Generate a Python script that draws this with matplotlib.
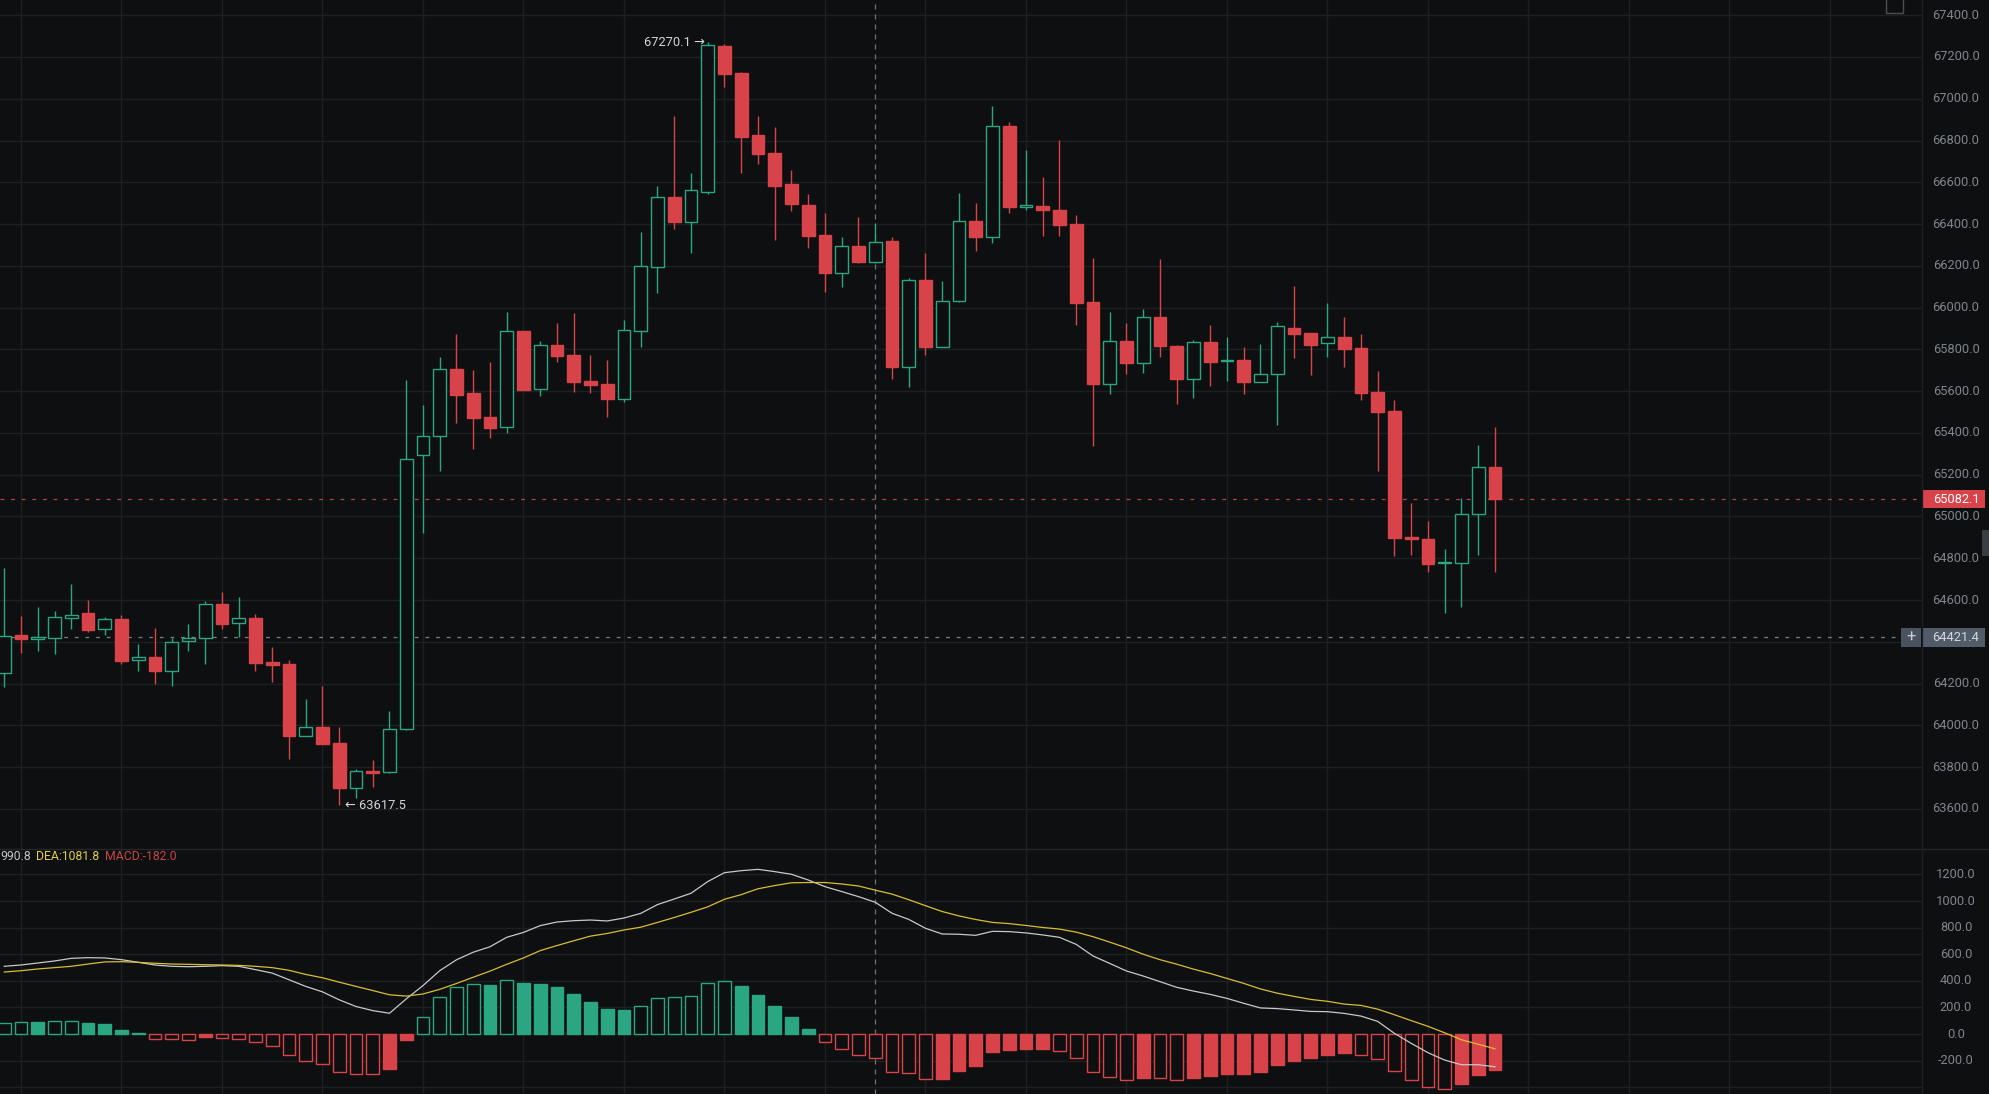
import numpy as np
import matplotlib
matplotlib.use("Agg")
import matplotlib.pyplot as plt
import matplotlib.transforms as mtransforms
from matplotlib.patches import Rectangle
from matplotlib.lines import Line2D

plt.rcParams['font.family'] = ['Roboto', 'DejaVu Sans']

# candle data, first candle is partly cut off at the left edge
opens  = [64249, 64432, 64415, 64420, 64515, 64538, 64459, 64509, 64311, 64327,
          64262, 64405, 64416, 64581, 64488, 64512, 64303, 64293, 63950, 63992,
          63915, 63701, 63783, 63775, 63981, 65293, 65385, 65704, 65589, 65476,
          65427, 65886, 65609, 65821, 65773, 65648, 65634, 65564, 65886, 66196,
          66528, 66411, 66555, 67252, 67125, 66826, 66740, 66592, 66491, 66348,
          66167, 66295, 66220, 66319, 65714, 66130, 65813, 66030, 66413, 66340,
          66868, 66483, 66486, 66467, 66400, 66027, 65633, 65838, 65736, 65953,
          65818, 65657, 65837, 65743, 65749, 65645, 65684, 65901, 65878, 65829,
          65859, 65807, 65596, 65505, 64902, 64894, 64776, 64779, 65010, 65235]
highs  = [64752, 64523, 64568, 64547, 64677, 64600, 64520, 64528, 64388, 64464,
          64416, 64485, 64595, 64637, 64613, 64533, 64376, 64313, 64124, 64190,
          63993, 63789, 63834, 64070, 65653, 65534, 65765, 65872, 65701, 65739,
          65977, 65890, 65842, 65925, 65972, 65773, 65749, 65941, 66360, 66582,
          66917, 66643, 67270.1, 67260, 67130, 66917, 66866, 66659, 66544, 66451,
          66336, 66432, 66403, 66336, 66140, 66260, 66126, 66547, 66502, 66965,
          66890, 66753, 66624, 66801, 66443, 66239, 65977, 65928, 65993, 66231,
          65822, 65845, 65917, 65861, 65810, 65824, 65933, 66105, 65880, 66020,
          65953, 65874, 65698, 65558, 65063, 64980, 64843, 65087, 65342, 65427]
lows   = [64185, 64348, 64357, 64341, 64461, 64448, 64432, 64293, 64262, 64198,
          64190, 64356, 64292, 64461, 64424, 64262, 64206, 63837, 63950, 63909,
          63617.5, 63650, 63703, 63770, 63978, 64919, 65219, 65449, 65321, 65377,
          65401, 65605, 65578, 65738, 65597, 65593, 65478, 65550, 65813, 66071,
          66378, 66260, 66544, 67055, 66646, 66687, 66324, 66462, 66287, 66075,
          66097, 66212, 66215, 65658, 65618, 65773, 65810, 66028, 66273, 66311,
          66451, 66467, 66344, 66343, 65917, 65339, 65586, 65682, 65685, 65765,
          65538, 65565, 65625, 65650, 65586, 65643, 65438, 65760, 65677, 65762,
          65717, 65558, 65219, 64812, 64815, 64736, 64536, 64565, 64815, 64736]
closes = [64429, 64413, 64423, 64517, 64526, 64456, 64507, 64309, 64325, 64262,
          64399, 64418, 64579, 64485, 64512, 64300, 64289, 63949, 63990, 63912,
          63701, 63781, 63773, 63981, 65273, 65385, 65704, 65583, 65473, 65425,
          65886, 65605, 65819, 65770, 65645, 65631, 65564, 65891, 66199, 66528,
          66411, 66561, 67256, 67120, 66818, 66735, 66584, 66498, 66344, 66167,
          66293, 66220, 66312, 65714, 66130, 65813, 66030, 66413, 66340, 66868,
          66483, 66490, 66466, 66397, 66020, 65633, 65838, 65736, 65953, 65818,
          65657, 65834, 65741, 65749, 65645, 65684, 65910, 65875, 65823, 65858,
          65803, 65591, 65500, 64898, 64890, 64772, 64782, 65010, 65235, 65082.1]

dif  = [509, 519, 534, 549, 569, 574, 572, 559, 539, 519,
        509, 506, 509, 514, 509, 484, 458, 408, 358, 317,
        257, 207, 176, 156, 264, 364, 476, 558, 615, 656,
        727, 764, 815, 842, 852, 857, 850, 872, 907, 973,
        1015, 1058, 1146, 1213, 1228, 1238, 1221, 1201, 1158, 1108,
        1071, 1033, 990.8, 908, 862, 795, 752, 750, 742, 772,
        770, 760, 745, 727, 674, 587, 531, 474, 436, 394,
        351, 323, 298, 268, 231, 196, 191, 181, 170, 168,
        155, 135, 95, 5, -70, -140, -196, -231, -231, -246]
dea  = [466, 476, 489, 499, 509, 526, 542, 544, 539, 532,
        526, 524, 521, 519, 516, 509, 499, 479, 448, 423,
        390, 358, 327, 295, 285, 301, 336, 380, 427, 473,
        524, 572, 627, 665, 701, 736, 756, 782, 803, 839,
        876, 915, 956, 1013, 1048, 1092, 1116, 1137, 1139, 1139,
        1128, 1113, 1081.8, 1052, 1010, 965, 921, 888, 861, 839,
        830, 816, 801, 789, 766, 732, 691, 648, 600, 559,
        525, 488, 455, 418, 381, 339, 307, 283, 260, 246,
        225, 215, 187, 145, 101, 58, 9, -43, -77, -111]
macd = [83, 88, 87, 98, 99, 86, 78, 30, 10, -40,
        -41, -48, -25, -33, -34, -63, -93, -161, -202, -229,
        -282, -300, -301, -265, -43, 126, 280, 355, 375, 365,
        404, 384, 376, 353, 301, 241, 188, 180, 208, 268,
        278, 286, 381, 401, 361, 293, 211, 128, 38, -63,
        -115, -160, -182.0, -288, -296, -341, -339, -276, -238, -134,
        -119, -112, -111, -124, -184, -289, -321, -348, -329, -331,
        -348, -329, -314, -300, -299, -285, -232, -203, -181, -157,
        -140, -160, -185, -280, -342, -397, -410, -375, -307, -270]

price_ticks = np.arange(63600, 67401, 200)
macd_ticks = np.arange(-200, 1201, 200)
last_price = 65082.1
cross_price = 64421.4
cross_idx = 52
high_idx = 42
low_idx = 20

bg = '#0e0f10'
grid_c = '#1d2023'
green = '#2ba682'
red = '#d8434a'
label_c = '#7f848d'

W, H = 1989, 1094
fig = plt.figure(figsize=(W / 100, H / 100), dpi=100, facecolor=bg)
axw = 1922 / W
ax = fig.add_axes([0, 1 - 849 / H, axw, 849 / H], facecolor=bg)
ax2 = fig.add_axes([0, 0, axw, (H - 849) / H], facecolor=bg)

x = np.arange(len(opens)) - 1
ax.set_xlim(-1.254, 113.5)
ax2.set_xlim(-1.254, 113.5)
ax.set_ylim(63408, 67472.7)
ax2.set_ylim(-451, 1391)

for a in (ax, ax2):
    for s in a.spines.values():
        s.set_visible(False)
    a.set_xticks([])
    a.set_yticks([])
    for g in range(0, 114, 6):
        a.axvline(g, color=grid_c, lw=1.0, zorder=0)
for p in price_ticks:
    ax.axhline(p, color=grid_c, lw=1.0, zorder=0)
for v in np.arange(-400, 1201, 200):
    ax2.axhline(v, color=grid_c, lw=1.0, zorder=0)

# candles
w = 0.76
for xi, o, h, l, c in zip(x, opens, highs, lows, closes):
    up = c >= o
    col = green if up else red
    top, bot = max(o, c), min(o, c)
    ax.vlines(xi, top, h, color=col, lw=1.0, zorder=2)
    ax.vlines(xi, l, bot, color=col, lw=1.0, zorder=2)
    ax.add_patch(Rectangle((xi - w / 2, bot), w, max(top - bot, 5),
                           facecolor=bg if up else col, edgecolor=col,
                           lw=1.0, zorder=3))

# macd histogram: hollow while growing, filled while shrinking
prev = 0
for i, (xi, v) in enumerate(zip(x, macd)):
    col = green if v >= 0 else red
    filled = i > 0 and abs(v) < abs(prev)
    ax2.add_patch(Rectangle((xi - w / 2, 0), w, v,
                            facecolor=col if filled else bg, edgecolor=col,
                            lw=1.0, zorder=2))
    prev = v
ax2.plot(x, dif, color='#c8c8c8', lw=0.9, zorder=4)
ax2.plot(x, dea, color='#d9bd35', lw=0.9, zorder=4)

# reference lines
ax.axhline(last_price, color='#b3434a', lw=0.9, dashes=(3, 5.5), zorder=1)
ax.plot([-1.254, (1900 - 21) / 16.75], [cross_price, cross_price],
        color='#7b7f85', lw=0.9, dashes=(3, 5.5), zorder=1)
xc = x[cross_idx]
for a in (ax, ax2):
    a.axvline(xc, color='#6e7277', lw=0.9, dashes=(4, 4), zorder=1)

# high / low annotations
ax.text(x[high_idx] - 0.15, highs[high_idx], f'{highs[high_idx]:.1f} \u2192',
        color='#d6d6d6', fontsize=9.3, ha='right', va='center', zorder=6)
ax.text(x[low_idx] + 0.34, lows[low_idx], f'\u2190 {lows[low_idx]:.1f}',
        color='#d6d6d6', fontsize=9.3, ha='left', va='center', zorder=6)

# right side axis labels (the one under the crosshair box is hidden)
tp = mtransforms.blended_transform_factory(fig.transFigure, ax.transData)
tm = mtransforms.blended_transform_factory(fig.transFigure, ax2.transData)
for p in price_ticks:
    if abs(p - cross_price) < 60:
        continue
    ax.text(1956 / W, p, f'{p:.1f}', transform=tp, color=label_c,
            fontsize=9.3, ha='center', va='center', clip_on=False, zorder=4)
for v in macd_ticks:
    ax2.text(1956 / W, v, f'{v:.1f}', transform=tm, color=label_c,
             fontsize=9.3, ha='center', va='center', clip_on=False, zorder=4)

ppx = (67472.7 - 63408) / 849
ax.add_patch(Rectangle((1923 / W, last_price - 9 * ppx), 62 / W, 18 * ppx,
                       transform=tp, facecolor='#d8434a', edgecolor='none',
                       clip_on=False, zorder=7))
ax.text(1956 / W, last_price, f'{last_price:.1f}', transform=tp, color='white',
        fontsize=9.3, ha='center', va='center', clip_on=False, zorder=8)
ax.add_patch(Rectangle((1923 / W, cross_price - 9.5 * ppx), 62 / W, 19 * ppx,
                       transform=tp, facecolor='#525b68', edgecolor='none',
                       clip_on=False, zorder=7))
ax.add_patch(Rectangle((1901 / W, cross_price - 9.5 * ppx), 20 / W, 19 * ppx,
                       transform=tp, facecolor='#4a525e', edgecolor='none',
                       clip_on=False, zorder=7))
ax.text(1911 / W, cross_price, '+', transform=tp, color='#c9ced6',
        fontsize=12, ha='center', va='center', clip_on=False, zorder=8)
ax.text(1956 / W, cross_price, f'{cross_price:.1f}', transform=tp, color='#d4d8de',
        fontsize=9.3, ha='center', va='center', clip_on=False, zorder=8)

# macd header values at the crosshair (scrolled: the DIF: prefix is off screen)
yt = 1 - 857 / H
fig.text(0.5 / W, yt, f'{dif[cross_idx]:.1f}', color='#c8c8c8', fontsize=8.8,
         ha='left', va='center')
fig.text(36 / W, yt, f'DEA:{dea[cross_idx]:.1f}', color='#e3cf45', fontsize=8.8,
         ha='left', va='center')
fig.text(105 / W, yt, f'MACD:{macd[cross_idx]:.1f}', color='#c8434a', fontsize=8.8,
         ha='left', va='center')

# pane borders and small widgets
fig.add_artist(Line2D([0, 1], [1 - 849 / H] * 2, color='#25282c', lw=1.0))
fig.add_artist(Line2D([1922 / W] * 2, [0, 1], color='#1d2023', lw=1.0))
fig.add_artist(Rectangle((1886 / W, 1 - 13 / H), 17 / W, 20 / H, fill=False,
                         edgecolor='#4a4d52', lw=1.0))
fig.add_artist(Rectangle((1982 / W, 1 - 556 / H), 7 / W, 26 / H,
                         facecolor='#3a3d42', edgecolor='none'))

fig.savefig('out.png', dpi=100, facecolor=bg)
